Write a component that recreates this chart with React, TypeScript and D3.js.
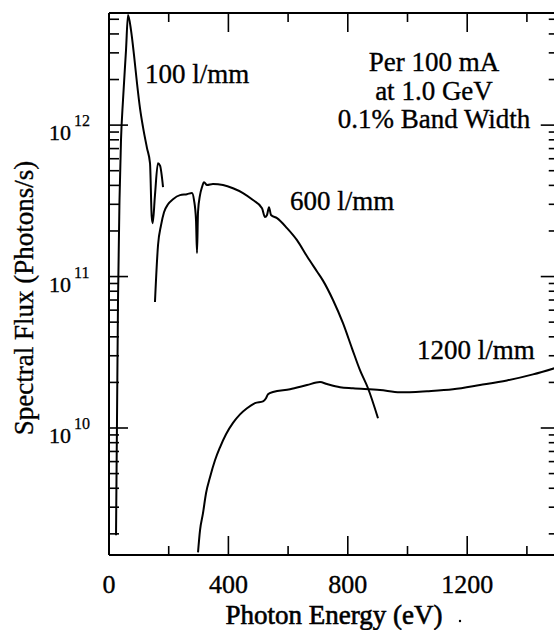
import React from 'react';
import * as d3 from 'd3';

const W = 554;
const H = 630;

// X axis
const xMajorTicks = [0, 400, 800, 1200];
const xMinorTicks = [200, 600, 1000, 1400];
const xTitle = 'Photon Energy (eV)';

// Y axis
const yMajorTicks = [1e10, 1e11, 1e12];
const yTickExponents = ['10', '11', '12'];
const yTitle = 'Spectral Flux (Photons/s)';

// 100 l/mm grating
const energy100 = [23.5, 26.8, 30.2, 35.2, 40.2, 46.9, 57, 63.7, 73.7, 83.8, 93.8, 103.9, 113.9, 127.3, 137.4, 143, 146.4, 154, 164, 171, 181];
const flux100 = [1.96e9, 1.13e10, 7.0e10, 3.2e11, 7.96e11, 1.46e12, 3.13e12, 5.33e12, 4.24e12, 2.9e12, 1.89e12, 1.29e12, 9.7e11, 7.05e11, 5.6e11, 2.5e11, 2.25e11, 3.45e11, 5.6e11, 5.4e11, 3.9e11];

// 600 l/mm grating
const energy600 = [154, 164.2, 174.2, 184.3, 197.7, 214.4, 237.9, 261.3, 278, 284.8, 291.5, 294.8, 298.2, 304.9, 311.6, 318.3, 328.3, 348.4, 381.9, 415.4, 448.9, 482.4, 512.6, 522.6, 529.3, 536, 542.7, 562.8, 596.3, 629.8, 663.3, 696.8, 716.9, 750.4, 783.9, 814, 840.8, 867.7, 901.2];
const flux600 = [6.8e10, 1.61e11, 2.18e11, 2.66e11, 3.0e11, 3.24e11, 3.45e11, 3.5e11, 3.56e11, 3.2e11, 2.36e11, 1.43e11, 2.67e11, 3.45e11, 3.9e11, 4.2e11, 4.02e11, 4.08e11, 4.02e11, 3.83e11, 3.56e11, 3.2e11, 2.83e11, 2.47e11, 2.55e11, 2.87e11, 2.55e11, 2.43e11, 2.09e11, 1.74e11, 1.36e11, 1.08e11, 9.4e10, 7.0e10, 4.92e10, 3.36e10, 2.41e10, 1.83e10, 1.16e10];

// 1200 l/mm grating
const energy1200 = [298.2, 304.9, 314.9, 325, 338.4, 355.1, 371.9, 392, 415.4, 438.9, 462.3, 489.1, 515.9, 526, 532.7, 549.4, 606.4, 663.3, 706.9, 730.3, 773.9, 817.4, 907.9, 974.9, 1065.3, 1152.4, 1242.9, 1333.3, 1420.4, 1497.5];
const flux1200 = [1.51e9, 2.11e9, 2.74e9, 3.71e9, 4.73e9, 6.12e9, 7.46e9, 9.1e9, 1.08e10, 1.23e10, 1.35e10, 1.46e10, 1.5e10, 1.57e10, 1.67e10, 1.73e10, 1.8e10, 1.92e10, 2.01e10, 1.95e10, 1.86e10, 1.83e10, 1.78e10, 1.72e10, 1.75e10, 1.8e10, 1.92e10, 2.06e10, 2.26e10, 2.5e10];

const seriesLabels = ['100 l/mm', '600 l/mm', '1200 l/mm'];
const noteLines = ['Per 100 mA', 'at 1.0 GeV', '0.1% Band Width'];

const FONT = "'Liberation Serif', 'Times New Roman', serif";

export default function App() {
  const left = 109, right = 556.75, top = 13, bottom = 555;
  const x = d3.scaleLinear().domain([0, 1500]).range([left, right]);
  const y = d3.scaleLog().domain([1.45e9, 5.5e12]).range([bottom, top]);

  const line = d3.line<[number, number]>()
    .x(d => x(d[0]))
    .y(d => y(d[1]))
    .curve(d3.curveMonotoneX);

  const s100 = energy100.map((e, i) => [e, flux100[i]] as [number, number]);
  const s600 = energy600.map((e, i) => [e, flux600[i]] as [number, number]);
  const s1200 = energy1200.map((e, i) => [e, flux1200[i]] as [number, number]);

  const yTicks = y.ticks();
  const isMajor = (v: number) => yMajorTicks.some(m => Math.abs(m - v) / m < 1e-6);

  const ax = { stroke: '#000', strokeWidth: 2, fill: 'none' } as const;
  const txt = { stroke: '#000', strokeWidth: 0.35, fill: '#000' } as const;

  return (
    <svg width={W} height={H} style={{ position: 'absolute', left: 0, top: 0, background: '#fff' }}
      fontFamily={FONT}>
      <rect x={0} y={0} width={W} height={H} fill="#fff" />
      {/* frame */}
      <line x1={left} x2={right} y1={top} y2={top} {...ax} />
      <line x1={left} x2={right} y1={bottom} y2={bottom} {...ax} />
      <line x1={left} x2={left} y1={top} y2={bottom} {...ax} />
      <line x1={right} x2={right} y1={top} y2={bottom} {...ax} />

      {/* x ticks bottom & top */}
      {xMajorTicks.concat(xMinorTicks).map(v => {
        const major = xMajorTicks.includes(v);
        const len = major ? 19 : 9;
        return (
          <g key={'xt' + v}>
            <line x1={x(v)} x2={x(v)} y1={bottom} y2={bottom - len} stroke="#000" strokeWidth={1.6} />
            <line x1={x(v)} x2={x(v)} y1={top} y2={top + len} stroke="#000" strokeWidth={1.6} />
          </g>
        );
      })}
      {xMajorTicks.map(v => (
        <text key={'xl' + v} x={x(v)} y={593} fontSize={26} textAnchor="middle" {...txt}>{v}</text>
      ))}
      <text x={334} y={624} fontSize={27} textAnchor="middle" {...txt} strokeWidth={0.6}>{xTitle}</text>
      <circle cx={460} cy={621} r={1.2} fill="#000" />

      {/* y ticks left & right */}
      {yTicks.map(v => {
        const major = isMajor(v);
        return (
          <g key={'yt' + v}>
            <line x1={left} x2={left + (major ? 19 : 10)} y1={y(v)} y2={y(v)} stroke="#000" strokeWidth={1.6} />
            <line x1={right} x2={right - (major ? 16 : 8)} y1={y(v)} y2={y(v)} stroke="#000" strokeWidth={1.6} />
          </g>
        );
      })}
      {yMajorTicks.map((v, i) => (
        <g key={'yl' + v}>
          <text x={71} y={y(v) + 15} fontSize={22} textAnchor="end" {...txt}>10</text>
          <text x={74} y={y(v) + 1} fontSize={16} {...txt} strokeWidth={0.25}>{yTickExponents[i]}</text>
        </g>
      ))}
      <text transform={`translate(33,298) rotate(-90)`} fontSize={27} textAnchor="middle" {...txt}>{yTitle}</text>

      {/* curves */}
      <path d={line(s100) || ''} stroke="#000" strokeWidth={2} fill="none" strokeLinejoin="round" />
      <path d={line(s600) || ''} stroke="#000" strokeWidth={2} fill="none" strokeLinejoin="round" />
      <path d={line(s1200) || ''} stroke="#000" strokeWidth={2} fill="none" strokeLinejoin="round" />

      {/* labels */}
      <text x={145} y={83} fontSize={27} {...txt}>{seriesLabels[0]}</text>
      <text x={290} y={210} fontSize={27} {...txt}>{seriesLabels[1]}</text>
      <text x={417} y={359} fontSize={27} {...txt}>{seriesLabels[2]}</text>
      {noteLines.map((t, i) => (
        <text key={t} x={434} y={71 + i * 28.5} fontSize={27} textAnchor="middle" {...txt}>{t}</text>
      ))}
    </svg>
  );
}
